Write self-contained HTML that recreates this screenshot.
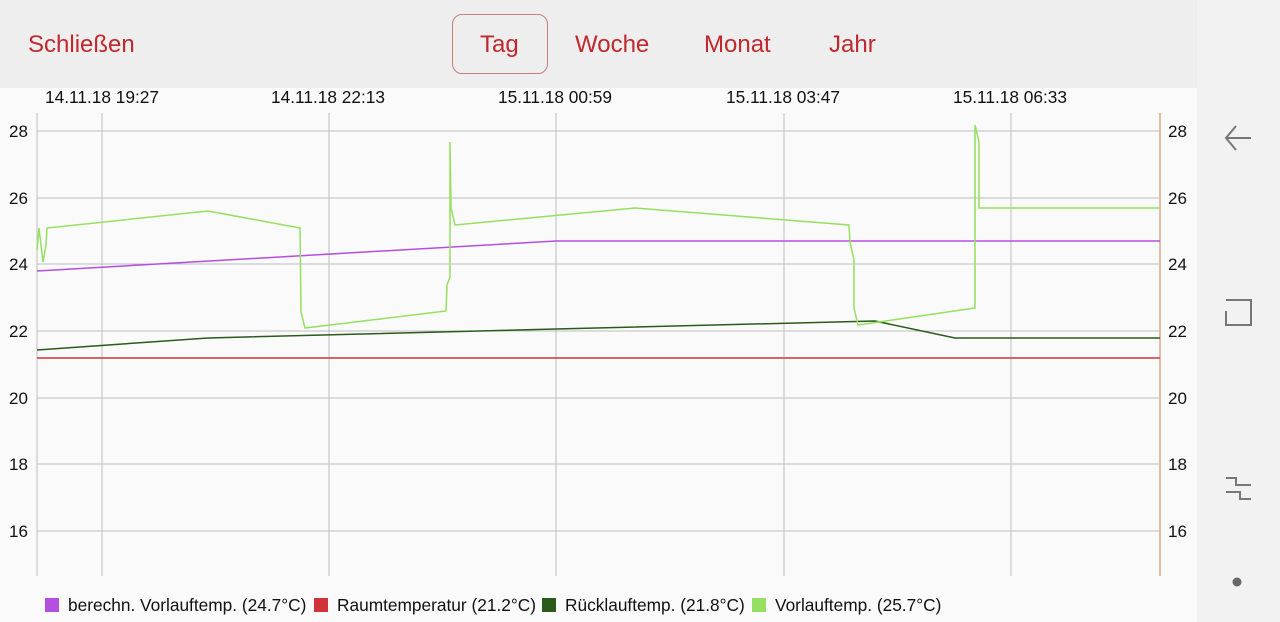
<!DOCTYPE html>
<html><head><meta charset="utf-8"><style>
body{margin:0;width:1280px;height:622px;overflow:hidden;background:#fafafa;font-family:"Liberation Sans",sans-serif;position:relative}
.top{position:absolute;left:0;top:0;width:1197px;height:88px;background:#eeeeee}
.side{position:absolute;left:1197px;top:0;width:83px;height:622px;background:#f2f2f2}
.t{position:absolute;color:#c0282d;font-size:24px;top:31px}
.tag{position:absolute;left:452px;top:14px;width:96px;height:60px;border:1px solid #c97c7c;border-radius:10px;box-sizing:border-box}
</style></head><body>
<div class="top"></div>
<div class="side"></div>
<div class="tag"></div>
<div class="t" style="left:28px">Schließen</div>
<div class="t" style="left:480px">Tag</div>
<div class="t" style="left:575px">Woche</div>
<div class="t" style="left:704px">Monat</div>
<div class="t" style="left:829px">Jahr</div>
<svg width="1280" height="622" style="position:absolute;left:0;top:0" font-family="Liberation Sans, sans-serif">
<g fill="#111" font-size="17.3">
<text x="45" y="103">14.11.18 19:27</text><text x="271" y="103">14.11.18 22:13</text><text x="498" y="103">15.11.18 00:59</text><text x="726" y="103">15.11.18 03:47</text><text x="953" y="103">15.11.18 06:33</text>
</g>
<g stroke="#bdbdbd" stroke-width="1">
<line x1="102" y1="113" x2="102" y2="576"/><line x1="329" y1="113" x2="329" y2="576"/><line x1="556" y1="113" x2="556" y2="576"/><line x1="784" y1="113" x2="784" y2="576"/><line x1="1011" y1="113" x2="1011" y2="576"/>
<line x1="37" y1="113" x2="37" y2="576"/>
<line x1="37" y1="131" x2="1160" y2="131"/><line x1="37" y1="198" x2="1160" y2="198"/><line x1="37" y1="264" x2="1160" y2="264"/><line x1="37" y1="331" x2="1160" y2="331"/><line x1="37" y1="398" x2="1160" y2="398"/><line x1="37" y1="464" x2="1160" y2="464"/><line x1="37" y1="531" x2="1160" y2="531"/>
</g>
<line x1="1160" y1="113" x2="1160" y2="576" stroke="#d9a98a" stroke-width="1.5"/>
<g fill="#111" font-size="17">
<text x="9" y="137">28</text><text x="9" y="204">26</text><text x="9" y="270">24</text><text x="9" y="337">22</text><text x="9" y="404">20</text><text x="9" y="470">18</text><text x="9" y="537">16</text>
<text x="1168" y="137">28</text><text x="1168" y="204">26</text><text x="1168" y="270">24</text><text x="1168" y="337">22</text><text x="1168" y="404">20</text><text x="1168" y="470">18</text><text x="1168" y="537">16</text>
</g>
<line x1="37" y1="358" x2="1160" y2="358" stroke="#d0343a" stroke-width="1.5"/>
<polyline fill="none" stroke="#b34fe0" stroke-width="1.5" points="37,271 556,241 1160,241"/>
<polyline fill="none" stroke="#2b5a1a" stroke-width="1.5" points="37,350 208,338 556,329 875,321 955,338 1160,338"/>
<polyline fill="none" stroke="#95e060" stroke-width="1.5" points="37,250 39,228 43,262 46,245 47,228 208,211 300,228 301,312 305,328 446,311 447,285 450,277 450,142 451,208 455,225 635,208 849,225 850,242 854,260 854,308 858,325 975,308 975,125 979,142 979,208 1160,208"/>
<g stroke="#777" stroke-width="2" fill="none">
<polyline points="1236,126 1226,138 1236,150"/><line x1="1226" y1="138" x2="1251" y2="138"/>
<polyline points="1226,300 1251,300 1251,325 1226,325 1226,311"/>
<polyline points="1226,478 1236,478 1236,485 1251,485"/><polyline points="1226,492 1240,492 1240,499 1251,499"/>
</g>
<circle cx="1237" cy="582" r="4.5" fill="#666"/>
<g font-size="17.3" fill="#111">
<rect x="45" y="598" width="14" height="14" fill="#b34fe0"/><text x="68" y="611">berechn. Vorlauftemp. (24.7°C)</text>
<rect x="314" y="598" width="14" height="14" fill="#d0343a"/><text x="337" y="611">Raumtemperatur (21.2°C)</text>
<rect x="542" y="598" width="14" height="14" fill="#2b5a1a"/><text x="565" y="611">Rücklauftemp. (21.8°C)</text>
<rect x="752" y="598" width="14" height="14" fill="#95e060"/><text x="775" y="611">Vorlauftemp. (25.7°C)</text>
</g>
</svg>
</body></html>
